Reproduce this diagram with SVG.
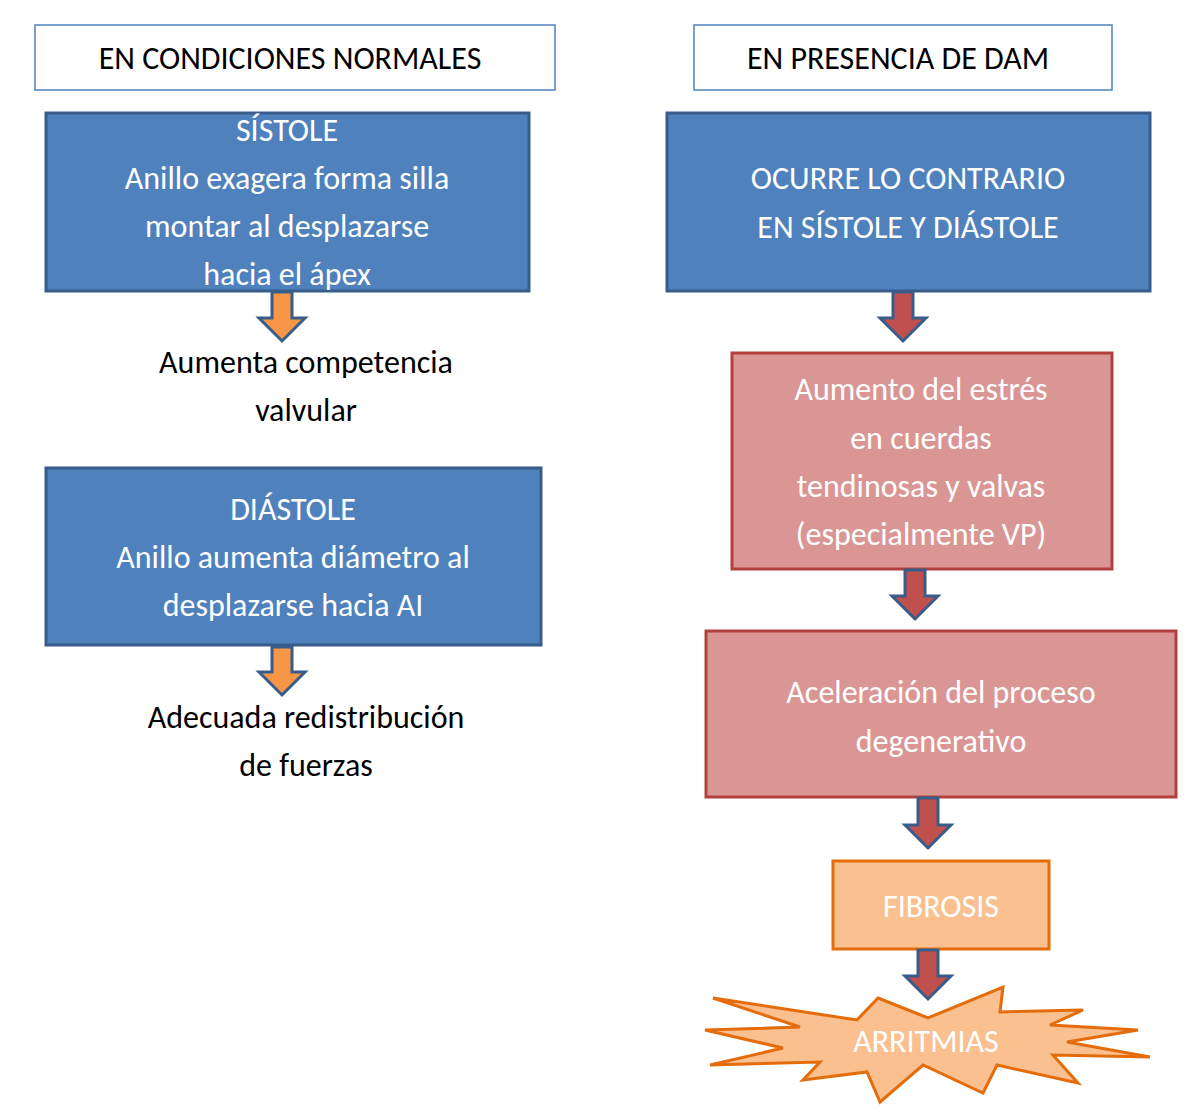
<svg xmlns="http://www.w3.org/2000/svg" width="1200" height="1112" viewBox="0 0 1200 1112">
<defs>
<style>
text{font-family:Calibri,"Open Sans","Liberation Sans",sans-serif;font-size:32px;text-anchor:middle}
.hdr{fill:#fff;stroke:#4f81bd;stroke-width:1.5}
.blue{fill:#4f81bd;stroke:#385d8a;stroke-width:3}
.pink{fill:#da9694;stroke:#b3403d;stroke-width:3}
.orange{fill:#fac090;stroke:#e46c0a;stroke-width:3}
.w{fill:#fff}
.k{fill:#000}
.ao{fill:#f79646;stroke:#385d8a;stroke-width:3;stroke-linejoin:miter}
.ar{fill:#c0504d;stroke:#385d8a;stroke-width:3;stroke-linejoin:miter}
</style>
</defs>
<g id="h1"><rect class="hdr" x="35" y="25" width="520" height="65"/><text class="k" x="290" y="69">EN CONDICIONES NORMALES</text></g>
<g id="h2"><rect class="hdr" x="694" y="25" width="418" height="65"/><text class="k" x="898" y="69">EN PRESENCIA DE DAM</text></g>
<g id="n1"><rect class="blue" x="46" y="113" width="483" height="178"/>
<text class="w" x="287" y="141">SÍSTOLE</text><text class="w" x="287" y="189">Anillo exagera forma silla</text><text class="w" x="287" y="237">montar al desplazarse</text><text class="w" x="287" y="285">hacia el ápex</text></g>
<g id="t1"><text class="k" x="306" y="373">Aumenta competencia</text><text class="k" x="306" y="421">valvular</text></g>
<g id="n2"><rect class="blue" x="46" y="468" width="495" height="177"/>
<text class="w" x="293" y="520">DIÁSTOLE</text><text class="w" x="293" y="568">Anillo aumenta diámetro al</text><text class="w" x="293" y="616">desplazarse hacia AI</text></g>
<g id="t2"><text class="k" x="306" y="728">Adecuada redistribución</text><text class="k" x="306" y="776">de fuerzas</text></g>
<g id="n3"><rect class="blue" x="667" y="113" width="483" height="178"/>
<text class="w" x="908" y="189">OCURRE LO CONTRARIO</text><text class="w" x="908" y="238">EN SÍSTOLE Y DIÁSTOLE</text></g>
<g id="n4"><rect class="pink" x="732" y="353" width="380" height="216"/>
<text class="w" x="921" y="400">Aumento del estrés</text><text class="w" x="921" y="449">en cuerdas</text><text class="w" x="921" y="497">tendinosas y valvas</text><text class="w" x="921" y="545">(especialmente VP)</text></g>
<g id="n5"><rect class="pink" x="706" y="631" width="470" height="166"/>
<text class="w" x="941" y="703">Aceleración del proceso</text><text class="w" x="941" y="752">degenerativo</text></g>
<g id="n6"><rect class="orange" x="833" y="861" width="216" height="88"/><text class="w" x="941" y="917">FIBROSIS</text></g>
<g id="n7"><polygon class="orange" points="878,998 928,1018 1003,987 1000,1012 1083,1010 1050,1025 1138,1030 1067,1042 1150,1057 1053,1055 1078,1083 997,1065 983,1093 923,1065 880,1102 867,1072 803,1080 820,1062 710,1065 783,1048 705,1030 800,1027 713,998 857,1020"/>
<text class="w" x="926" y="1052">ARRITMIAS</text></g>
<g id="connectors">
<polygon class="ao" points="272,292 292,292 292,318 305,318 282,341 259,318 272,318"/>
<polygon class="ao" points="272,647 292,647 292,672 305,672 282,695 259,672 272,672"/>
<polygon class="ar" points="893,292 913,292 913,318 926,318 903,341 880,318 893,318"/>
<polygon class="ar" points="905,570 925,570 925,596 938,596 915,619 892,596 905,596"/>
<polygon class="ar" points="918,798 938,798 938,825 951,825 928,848 905,825 918,825"/>
<polygon class="ar" points="918,950 938,950 938,976 951,976 928,999 905,976 918,976"/>
</g>
</svg>
